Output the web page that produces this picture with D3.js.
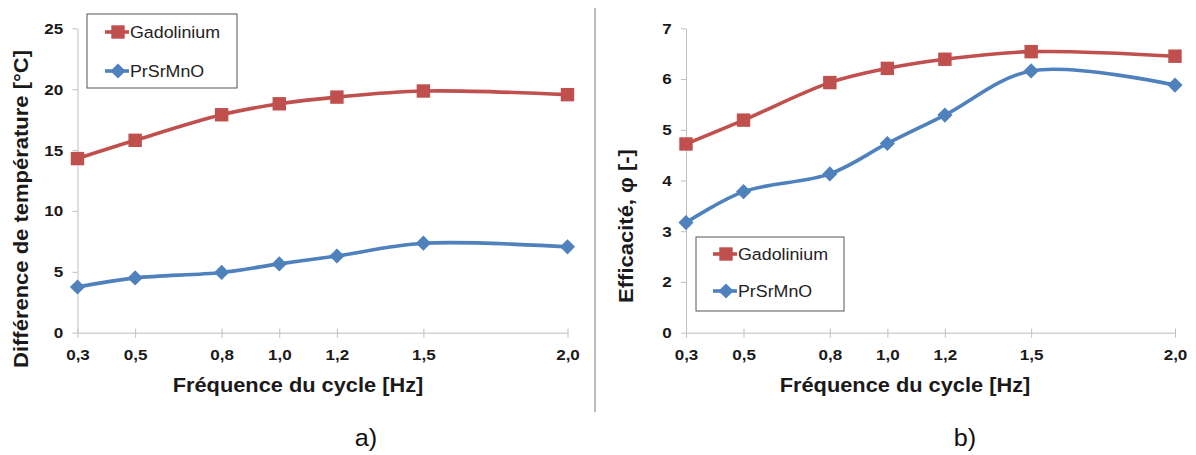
<!DOCTYPE html>
<html><head><meta charset="utf-8">
<script src="https://cdn.jsdelivr.net/npm/d3@7"></script>
<style>
body{margin:0;background:#fff;}
svg{display:block;font-family:"Liberation Sans",Arial,sans-serif;}
</style></head>
<body><svg id="c" width="1196" height="455"></svg>
<script>
// ---- data ----
const freqs = [0.3, 0.5, 0.8, 1.0, 1.2, 1.5, 2.0];
const xTickLabels = ["0,3", "0,5", "0,8", "1,0", "1,2", "1,5", "2,0"];
const seriesNames = ["Gadolinium", "PrSrMnO"];
const gdDeltaT = [14.3, 15.8, 17.9, 18.8, 19.35, 19.85, 19.55];
const prDeltaT = [3.75, 4.5, 4.95, 5.65, 6.3, 7.35, 7.05];
const gdEff = [4.72, 5.19, 5.93, 6.21, 6.39, 6.54, 6.45];
const prEff = [3.17, 3.78, 4.13, 4.73, 5.29, 6.16, 5.88];
const yTicksA = [0, 5, 10, 15, 20, 25];
const yTickLabelsA = ["0", "5", "10", "15", "20", "25"];
const yTicksB = [1, 2, 3, 4, 5, 6, 7];
const yTickLabelsB = ["0", "2", "3", "4", "5", "6", "7"];

const RED = "#C0504D", BLUE = "#4F81BD", AXIS = "#BFBFBF", TXT = "#1a1a1a";
const FONT = "Liberation Sans, Arial, sans-serif";
const SX = 1.1; // text in the reference is wider than Liberation Sans
const svg = d3.select("#c");

function htext(g, x, y, size, str, opts = {}) {
  return g.append("text").attr("transform", `translate(${x},${y}) scale(${opts.sx || SX},1)`)
    .attr("text-anchor", opts.anchor || "start").attr("dy", opts.dy || 0)
    .attr("font-size", size).attr("font-weight", opts.bold ? "bold" : "normal")
    .attr("fill", opts.fill || TXT).text(str);
}

function panel(o) {
  const g = svg.append("g");
  const x = d3.scaleLinear().domain([0.3, 2.0]).range(o.xr);
  const y = d3.scaleLinear().domain(o.yd).range([332.7, 28.3]);

  // y axis
  const ya = g.append("g").attr("transform", `translate(${o.xr[0]},0)`)
    .call(d3.axisLeft(y).tickValues(o.yTicks).tickFormat((d, i) => o.yLabels[i]).tickSize(5).tickSizeOuter(0).tickPadding(8));
  ya.select(".domain").attr("stroke", AXIS);
  ya.selectAll(".tick line").attr("stroke", AXIS);
  ya.selectAll(".tick text").attr("font-size", 15.5).attr("font-weight", "bold").attr("fill", TXT)
    .attr("font-family", FONT).attr("transform", `scale(${SX},1)`);

  // x axis
  const xa = g.append("g").attr("transform", `translate(0,332.7)`)
    .call(d3.axisBottom(x).tickValues(freqs).tickFormat((d, i) => xTickLabels[i]).tickSize(5).tickSizeOuter(0).tickPadding(11));
  xa.select(".domain").attr("stroke", AXIS);
  xa.selectAll(".tick line").attr("stroke", AXIS).attr("y1", -4);
  xa.selectAll(".tick text").attr("font-size", 15.5).attr("font-weight", "bold").attr("fill", TXT)
    .attr("font-family", FONT).attr("transform", `scale(${SX},1)`);

  // lines + markers
  const line = d3.line().x((d, i) => x(freqs[i])).y(d => y(d)).curve(d3.curveCatmullRom.alpha(0.5));
  const sq = d3.symbol(d3.symbolSquare, 180);
  const dm = d3.symbol(d3.symbolSquare, 115);
  [[o.gd, RED, "sq"], [o.pr, BLUE, "dm"]].forEach(([vals, col, m]) => {
    g.append("path").attr("d", line(vals)).attr("fill", "none").attr("stroke", col).attr("stroke-width", 3.6);
    g.selectAll(null).data(vals).enter().append("path")
      .attr("d", m === "sq" ? sq() : dm())
      .attr("transform", (d, i) => `translate(${x(freqs[i])},${y(d)})` + (m === "dm" ? " rotate(45)" : ""))
      .attr("fill", col);
  });

  // axis titles
  htext(g, o.xtx, 392, 20, "Fréquence du cycle [Hz]", {anchor: "middle", bold: true, sx: 1.09});
  g.append("text").attr("transform", `translate(${o.ytx},${o.yty}) rotate(-90) scale(1.1,1)`).attr("text-anchor", "middle")
    .attr("font-size", 20).attr("font-weight", "bold").attr("fill", TXT).text(o.ytitle);

  // legend
  const L = o.leg;
  g.append("rect").attr("x", L.x).attr("y", L.y).attr("width", L.w).attr("height", L.h)
    .attr("fill", "#fff").attr("stroke", "#555").attr("stroke-width", 1);
  [[RED, "sq", seriesNames[0], L.y1], [BLUE, "dm", seriesNames[1], L.y2]].forEach(([col, m, name, yy]) => {
    g.append("line").attr("x1", L.lx).attr("x2", L.lx + 24).attr("y1", yy).attr("y2", yy).attr("stroke", col).attr("stroke-width", 3.6);
    g.append("path").attr("d", m === "sq" ? sq() : dm())
      .attr("transform", `translate(${L.lx + 13},${yy})` + (m === "dm" ? " rotate(45)" : "")).attr("fill", col);
    htext(g, L.lx + 25, yy, 16.5, name, {dy: "0.36em", sx: 1.08, fill: "#222"});
  });

  htext(g, o.lab[0], o.lab[1], 24, o.label, {anchor: "middle", sx: 1.05, fill: "#111"});
}

panel({xr: [77.5, 567.5], yd: [0, 25], yTicks: yTicksA, yLabels: yTickLabelsA, gd: gdDeltaT, pr: prDeltaT,
  xtx: 298, ytitle: "Différence de température [°C]", ytx: 28, yty: 209,
  leg: {x: 87, y: 14, w: 150, h: 74, lx: 105, y1: 32, y2: 71}, lab: [366, 446], label: "a)"});
panel({xr: [686, 1175], yd: [1, 7], yTicks: yTicksB, yLabels: yTickLabelsB, gd: gdEff, pr: prEff,
  xtx: 905, ytitle: "Efficacité, φ [-]", ytx: 633, yty: 226,
  leg: {x: 696, y: 237, w: 148, h: 74, lx: 713, y1: 254, y2: 291}, lab: [965, 446], label: "b)"});

// divider
svg.append("line").attr("x1", 595).attr("x2", 595).attr("y1", 8).attr("y2", 412).attr("stroke", "#BBBBBB").attr("stroke-width", 2);
</script></body></html>
